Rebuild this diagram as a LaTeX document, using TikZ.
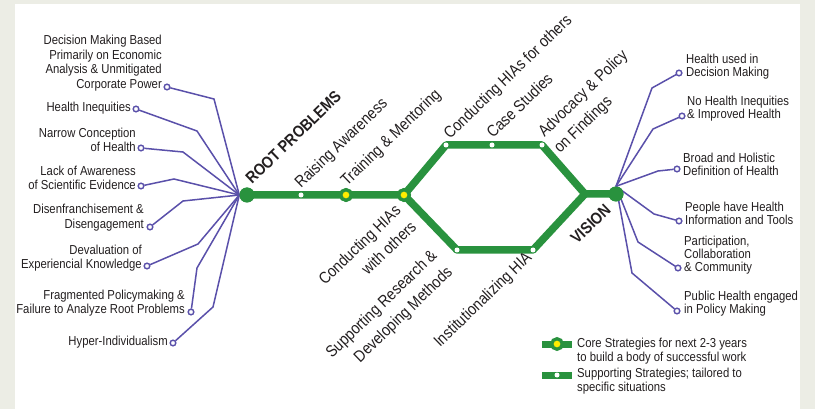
\documentclass[tikz,border=0pt]{standalone}
\usepackage{fontspec}
\setmainfont{Liberation Sans}[FakeStretch=0.87]
\definecolor{bgray}{RGB}{236,237,229}
\definecolor{ggreen}{RGB}{41,146,62}
\definecolor{purp}{RGB}{90,80,170}
\definecolor{yel}{RGB}{255,236,0}
\definecolor{ink}{RGB}{35,31,32}
\begin{document}
\begin{tikzpicture}[x=1pt,y=-1pt,
  lbl/.style={font=\fontsize{13}{14.5}\selectfont, text=ink, inner sep=0pt},
  lleft/.style={lbl, align=right, anchor=east},
  lright/.style={font=\fontsize{13}{13}\selectfont, text=ink, inner sep=0pt, align=left, anchor=west},
  rot/.style={font=\fontsize{16.3}{22.5}\selectfont, text=ink, inner sep=0pt, rotate=44, anchor=base west},
  rotb/.style={rot, font=\bfseries\fontsize{16.3}{22.5}\selectfont},
  pline/.style={draw=purp, line width=1.5pt},
  pend/.style={circle, draw=purp, fill=white, line width=1.3pt, minimum size=5.5pt, inner sep=0pt},
  gline/.style={draw=ggreen, line width=7.5pt, line join=round},
  hub/.style={circle, fill=ggreen, minimum size=15pt, inner sep=0pt},
  core/.style={circle, fill=yel, draw=ggreen, line width=3.3pt, minimum size=10.5pt, inner sep=0pt},
  wdot/.style={circle, fill=white, minimum size=5pt, inner sep=0pt}]
% background
\fill[bgray] (0,0) rectangle (815,409);
\fill[white] (15,4) rectangle (800,409);
\useasboundingbox (0,0) rectangle (815,409);

% hubs and stations
\node[hub] (root) at (247,195) {};
\node[wdot] (raise) at (301,195) {};
\node[core] (train) at (346,195) {};
\node[core] (branch) at (404,195) {};
\node[wdot] (hiaoth) at (446,145) {};
\node[wdot] (case) at (492,145) {};
\node[wdot] (advo) at (542,145) {};
\node[wdot] (resm) at (457,250) {};
\node[wdot] (inst) at (533,250) {};
\coordinate (junc) at (585,194);
\node[hub] (vision) at (616,194) {};

% left fan
\node[pend] (c1) at (167,87) {};  \coordinate (b1) at (214,99);
\node[pend] (c2) at (136,109) {}; \coordinate (b2) at (197,131);
\node[pend] (c3) at (141,148) {}; \coordinate (b3) at (183,152);
\node[pend] (c4) at (141,186) {}; \coordinate (b4) at (174,179);
\node[pend] (c5) at (150,227) {}; \coordinate (b5) at (183,201);
\node[pend] (c6) at (147,266) {}; \coordinate (b6) at (198,244);
\node[pend] (c7) at (191,312) {}; \coordinate (b7) at (197,268);
\node[pend] (c8) at (173,343) {}; \coordinate (b8) at (213,307);
% right fan
\node[pend] (d1) at (679,73) {};  \coordinate (e1) at (652,88);
\node[pend] (d2) at (682,116) {}; \coordinate (e2) at (653,129);
\node[pend] (d3) at (677,169) {}; \coordinate (e3) at (658,171);
\node[pend] (d4) at (679,221) {}; \coordinate (e4) at (654,214);
\node[pend] (d5) at (678,268) {}; \coordinate (e5) at (638,242);
\node[pend] (d6) at (677,311) {}; \coordinate (e6) at (632,273);

% purple connectors
\foreach \i in {1,...,8}{\draw[pline] (root.west) -- (b\i) -- (c\i);}
\foreach \i in {1,...,6}{\draw[pline] (vision.north) -- (e\i) -- (d\i);}
% end circles on top
\foreach \n in {c1,c2,c3,c4,c5,c6,c7,c8,d1,d2,d3,d4,d5,d6}
  {\node[pend] at (\n) {};}

% green lines
\draw[gline] (root.center) -- (raise.center) -- (train.center) -- (branch.center)
  -- (hiaoth.center) -- (case.center) -- (advo.center) -- (junc) -- (vision.center);
\draw[gline] (branch.center) -- (resm.center) -- (inst.center) -- (junc);
% stations on top
\node[hub] at (root) {};
\node[hub] at (vision) {};
\node[wdot] at (raise) {};
\node[core] at (train) {};
\node[core] at (branch) {};
\node[wdot] at (hiaoth) {};
\node[wdot] at (case) {};
\node[wdot] at (advo) {};
\node[wdot] at (resm) {};
\node[wdot] at (inst) {};

% left labels
\node[lleft] (t1) at (162,63) {Decision Making Based\\Primarily on Economic\\Analysis \& Unmitigated\\Corporate Power};
\node[lleft] (t2) at (131,108) {Health Inequities};
\node[lleft] (t3) at (136,140) {Narrow Conception\\of Health};
\node[lleft] (t4) at (136,178) {Lack of Awareness\\of Scientific Evidence};
\node[lleft] (t5) at (144,217.5) {Disenfranchisement \&\\Disengagement};
\node[lleft] (t6) at (142,258) {Devaluation of\\Experiencial Knowledge};
\node[lleft] (t7) at (185,303) {Fragmented Policymaking \&\\Failure to Analyze Root Problems};
\node[lleft] (t8) at (168,342) {Hyper-Individualism};

% right labels
\node[lright] (u1) at (686,66.5) {Health used in\\Decision Making};
\node[lright] (u2) at (687,109) {No Health Inequities\\\& Improved Health};
\node[lright] (u3) at (683,164) {Broad and Holistic\\Definition of Health};
\node[lright] (u4) at (685,213.5) {People have Health\\Information and Tools};
\node[lright] (u5) at (684,255) {Participation,\\Collaboration\\\& Community};
\node[lright] (u6) at (684,303.5) {Public Health engaged\\in Policy Making};

% rotated labels (anchor: baseline of last line, west edge)
\node[rotb] (rp) at (252,185) {ROOT PROBLEMS};
\node[rot] (s1) at (301,189) {Raising Awareness};
\node[rot] (s2) at (347,187) {Training \& Mentoring};
\node[rot] (s3) at (450,140) {Conducting HIAs for others};
\node[rot] (s4) at (493,139) {Case Studies};
\node[rot, align=left] (s5) at (560,154) {Advocacy \& Policy\\on Findings};
\node[rot, align=right] (s6) at (340.6,302.2) {Conducting HIAs\\with others};
\node[rot, align=right] (s7) at (347.6,375.2) {Supporting Research \&\\Developing Methods};
\node[rot] (s8) at (440,348) {Institutionalizing HIA};
\node[rotb] (vs) at (577,245) {VISION};

% legend
\coordinate (la1) at (542,344); \coordinate (lb1) at (572,344);
\coordinate (la2) at (542,375); \coordinate (lb2) at (572,375);
\draw[gline, line width=7pt] (la1) -- (lb1);
\draw[gline, line width=7pt] (la2) -- (lb2);
\node[core] (lg1) at (557,344) {};
\node[wdot] (lg2) at (557,375) {};
\node[lbl, align=left, anchor=west] (lt1) at (577,351) {Core Strategies for next 2-3 years\\to build a body of successful work};
\node[lbl, align=left, anchor=west] (lt2) at (577,381) {Supporting Strategies; tailored to\\specific situations};
\end{tikzpicture}
\end{document}
